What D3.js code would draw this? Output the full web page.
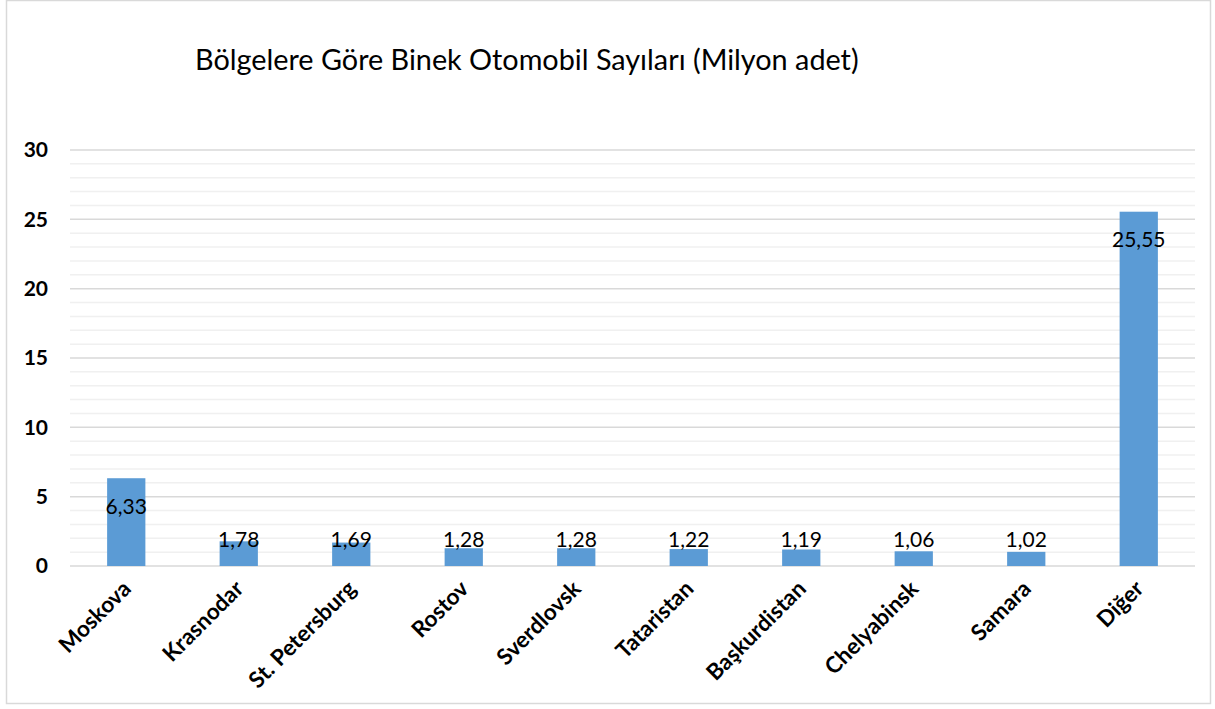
<!DOCTYPE html>
<html>
<head>
<meta charset="utf-8">
<script src="https://cdn.jsdelivr.net/npm/d3@7"></script>
<style>
  body { margin: 0; background: #fff; }
  text { font-family: Lato, "Open Sans", sans-serif; }
</style>
</head>
<body>
<div id="chart"></div>
<script>
// data
const categories = ["Moskova", "Krasnodar", "St. Petersburg", "Rostov", "Sverdlovsk",
                    "Tataristan", "Başkurdistan", "Chelyabinsk", "Samara", "Diğer"];
const values = [6.33, 1.78, 1.69, 1.28, 1.28, 1.22, 1.19, 1.06, 1.02, 25.55];
const yTicks = [0, 5, 10, 15, 20, 25, 30];
const title = "Bölgelere Göre Binek Otomobil Sayıları (Milyon adet)";

const W = 1215, H = 709;
const margin = { top: 150, right: 20, bottom: 143, left: 70 };
const width = 1195 - margin.left;
const height = 566 - margin.top;

const svg = d3.select("#chart").append("svg")
    .attr("width", W)
    .attr("height", H);

// chart border
svg.append("rect")
    .attr("x", 6.5).attr("y", 0.5)
    .attr("width", 1204).attr("height", 703)
    .attr("fill", "none")
    .attr("stroke", "#d9d9d9")
    .attr("stroke-width", 1.5);

svg.append("text")
    .attr("x", 195)
    .attr("y", 70)
    .attr("font-size", 28.8)
    .attr("fill", "#000")
    .text(title);

const g = svg.append("g").attr("transform", `translate(${margin.left},${margin.top})`);

const x = d3.scaleBand().domain(categories).range([0, width]).paddingInner(0.66).paddingOuter(0.33);
const y = d3.scaleLinear().domain([0, 30]).range([height, 0]);

// minor gridlines every 1
g.append("g")
    .selectAll("line")
    .data(d3.range(0, 31).filter(v => v % 5 !== 0))
    .enter().append("line")
    .attr("x1", 0).attr("x2", width)
    .attr("y1", d => y(d)).attr("y2", d => y(d))
    .attr("stroke", "#f0f0f0")
    .attr("stroke-width", 1.5);

// major gridlines
g.append("g")
    .selectAll("line")
    .data(yTicks)
    .enter().append("line")
    .attr("x1", 0).attr("x2", width)
    .attr("y1", d => y(d)).attr("y2", d => y(d))
    .attr("stroke", "#d9d9d9")
    .attr("stroke-width", 1.5);

// y axis
const yAxis = g.append("g")
    .call(d3.axisLeft(y).tickValues(yTicks).tickSize(0).tickPadding(22));
yAxis.select(".domain").remove();
yAxis.selectAll("text")
    .attr("font-size", 21)
    .attr("font-weight", "bold")
    .attr("fill", "#000");

// x axis
const xAxis = g.append("g")
    .attr("transform", `translate(0,${height})`)
    .call(d3.axisBottom(x).tickSize(0));
xAxis.select(".domain").remove();
xAxis.selectAll("text")
    .attr("font-size", 22.5)
    .attr("font-weight", "bold")
    .attr("fill", "#000")
    .attr("text-anchor", "end")
    .attr("dy", "0")
    .attr("transform", "translate(4,22) rotate(-45)");

// bars
g.selectAll(".bar")
    .data(values)
    .enter().append("rect")
    .attr("class", "bar")
    .attr("x", (d, i) => x(categories[i]))
    .attr("y", d => y(d))
    .attr("width", x.bandwidth())
    .attr("height", d => height - y(d))
    .attr("fill", "#5b9bd5");

// value labels
g.selectAll(".lbl")
    .data(values)
    .enter().append("text")
    .attr("class", "lbl")
    .attr("x", (d, i) => x(categories[i]) + x.bandwidth() / 2)
    .attr("y", d => Math.min(y(d) + 28, height - 26))
    .attr("dy", "0.35em")
    .attr("text-anchor", "middle")
    .attr("font-size", 21)
    .attr("fill", "#000")
    .text(d => d.toFixed(2).replace(".", ","));
</script>
</body>
</html>
